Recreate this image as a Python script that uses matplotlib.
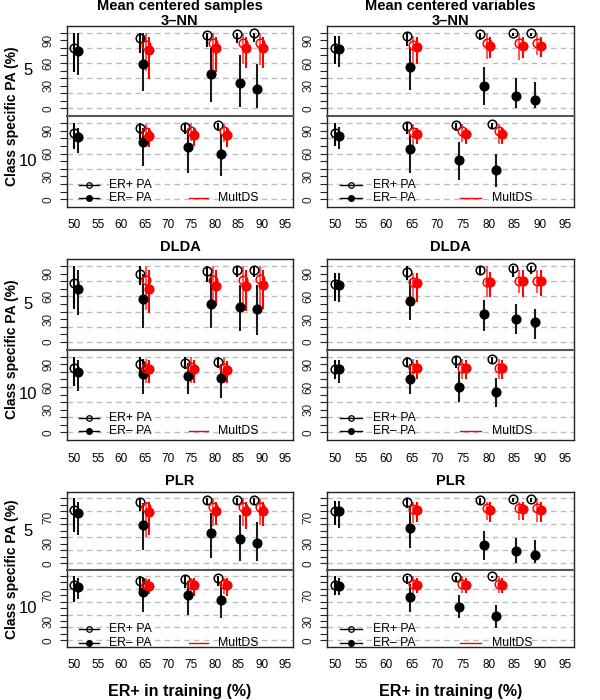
import numpy as np
import matplotlib.pyplot as plt

plt.rcParams['font.family'] = ['Liberation Sans', 'DejaVu Sans']

# ER+ share (%) in the training sets
x_n5 = [50, 64, 78.4, 84.7, 88.3]
x_n10 = [50, 64, 73.6, 80.7]

# class specific PA (%) as (mean, low, high)
# pos = ER+ PA, neg = ER- PA, mpos/mneg = MultDS (no MultDS at 50 %)

# 3-NN, mean centered samples
knn_s5_pos = [(80, 48, 100), (93, 73, 100), (97, 81, 100), (98, 86, 100), (99, 88, 100)]
knn_s5_neg = [(76, 44, 99), (59, 23, 99), (45, 9, 80), (33, 2, 70), (25, 0, 59)]
knn_s5_mpos = [(84, 50, 99), (86, 48, 100), (86, 59, 100), (87, 57, 100)]
knn_s5_mneg = [(77, 39, 94), (80, 48, 94), (80, 53, 94), (80, 53, 94)]
knn_s10_pos = [(87, 66, 100), (93, 79, 100), (95, 86, 100), (97, 89, 100)]
knn_s10_neg = [(82, 61, 94), (75, 44, 94), (68, 35, 90), (60, 31, 86)]
knn_s10_mpos = [(88, 70, 99), (89, 77, 100), (90, 75, 99)]
knn_s10_mneg = [(83, 69, 94), (84, 70, 94), (84, 69, 94)]
# 3-NN, mean centered variables
knn_v5_pos = [(80, 59, 95), (95, 83, 99), (98, 90, 100), (99, 95, 100), (100, 96, 100)]
knn_v5_neg = [(79, 55, 95), (55, 24, 81), (29, 4, 55), (17, 0, 40), (11, 0, 35)]
knn_v5_mpos = [(84, 59, 95), (86, 65, 100), (86, 64, 100), (86, 70, 99)]
knn_v5_mneg = [(81, 59, 94), (82, 66, 94), (82, 66, 94), (82, 68, 94)]
knn_v10_pos = [(87, 70, 100), (96, 86, 100), (98, 90, 100), (99, 92, 100)]
knn_v10_neg = [(83, 66, 95), (66, 35, 86), (51, 25, 75), (38, 16, 60)]
knn_v10_mpos = [(88, 70, 99), (89, 75, 99), (89, 73, 99)]
knn_v10_mneg = [(85, 72, 94), (85, 72, 94), (85, 72, 94)]
# DLDA, mean centered samples
dlda_s5_pos = [(78, 44, 100), (90, 75, 100), (94, 79, 100), (94.5, 86, 100), (95, 86, 100)]
dlda_s5_neg = [(69.5, 35, 94.5), (56, 19, 90), (50.5, 19, 90), (46, 14.5, 75.6), (44, 9, 75)]
dlda_s5_mpos = [(82, 42, 100), (82, 50.5, 100), (82, 41, 100), (83.5, 46, 100)]
dlda_s5_mneg = [(70, 38, 94.5), (74, 47, 94.5), (74, 41, 94.5), (75, 44, 94.5)]
dlda_s10_pos = [(85, 61.5, 100), (90, 79, 100), (92, 83.5, 100), (93.6, 85, 100)]
dlda_s10_neg = [(80.4, 55, 95.4), (77, 50.5, 96.7), (74, 50.5, 92.3), (71.6, 46, 90)]
dlda_s10_mpos = [(85.7, 64.6, 96.7), (86.6, 64.6, 99), (85.7, 64.6, 99)]
dlda_s10_mneg = [(83.5, 64.6, 95.4), (83.5, 64.6, 95.4), (83, 64.6, 94.5)]
# DLDA, mean centered variables
dlda_v5_pos = [(76, 54, 91), (92, 81, 100), (95, 90, 100), (97, 86, 100), (99, 90, 100)]
dlda_v5_neg = [(75.6, 53, 91), (54, 29, 81), (37, 15, 55), (31, 10, 50), (26, 4, 44)]
dlda_v5_mpos = [(79, 48, 91), (79, 59, 100), (80, 64, 95), (80, 64, 95)]
dlda_v5_mneg = [(78, 53, 91), (79, 59, 92), (80, 59, 95), (80, 61, 95)]
dlda_v10_pos = [(83.5, 70, 95), (93.6, 88, 99), (95.4, 85, 100), (96.7, 91, 100)]
dlda_v10_neg = [(83.5, 65, 95), (70, 50.5, 90), (60, 40, 80), (53, 34, 72)]
dlda_v10_mpos = [(84.4, 70, 96.7), (84.4, 70, 96.7), (84.4, 70, 96.7)]
dlda_v10_mneg = [(84.4, 70, 95.4), (84.4, 70, 95.4), (84.4, 70, 95.4)]
# PLR, mean centered samples
plr_s5_pos = [(82.5, 49, 100), (94, 80, 100), (97, 90, 100), (98, 90, 100), (98, 90, 100)]
plr_s5_neg = [(77, 44, 95), (59, 20, 93), (46, 8, 77), (37, 4, 75), (31, 4, 64)]
plr_s5_mpos = [(86, 41, 95), (86, 57, 100), (86, 57, 100), (86.6, 59, 100)]
plr_s5_mneg = [(79, 44, 94), (81, 59, 94), (81, 53, 94), (81, 58, 94)]
plr_s10_pos = [(85.5, 60, 100), (92, 77, 100), (95, 82, 100), (96.4, 84.5, 100)]
plr_s10_neg = [(83, 64, 97), (75.6, 44.6, 97), (70, 40, 92), (62, 35, 90)]
plr_s10_mpos = [(86, 71.5, 97), (87, 71.5, 97), (87, 71.5, 97)]
plr_s10_mneg = [(84.5, 71.5, 95), (85.5, 69, 97), (85.5, 69, 97)]
# PLR, mean centered variables
plr_v5_pos = [(81, 59, 96), (95, 85, 100), (98, 90, 100), (99.5, 95, 100), (99.5, 95, 100)]
plr_v5_neg = [(80, 54, 96), (54, 24, 88), (28, 5, 50), (19, 0, 39), (13, 0, 36)]
plr_v5_mpos = [(83.5, 62, 95), (85, 67, 95), (85, 67, 95), (85, 64, 100)]
plr_v5_mneg = [(81.4, 64, 95), (82.5, 64, 95), (83.5, 67, 95), (82.5, 64, 95)]
plr_v10_pos = [(85.5, 70.5, 100), (96.4, 87, 100), (98, 92, 100), (100, 97, 100)]
plr_v10_neg = [(84.5, 70.5, 96.4), (68, 44.6, 87), (52, 35, 70.5), (37, 18.6, 55)]
plr_v10_mpos = [(87, 74, 100), (87, 74, 100), (87, 74, 100)]
plr_v10_mneg = [(85.5, 74, 97.4), (85.5, 74, 97.4), (85.5, 74, 97.4)]

methods = ['3\u2013NN', 'DLDA', 'PLR']
centerings = ['Mean centered samples', 'Mean centered variables']
ytick_labels = [[0, 30, 60, 90], [0, 30, 60, 90], [0, 30, 70]]

panels = {
    (0, 0, 5): (knn_s5_pos, knn_s5_neg, knn_s5_mpos, knn_s5_mneg),
    (0, 0, 10): (knn_s10_pos, knn_s10_neg, knn_s10_mpos, knn_s10_mneg),
    (0, 1, 5): (knn_v5_pos, knn_v5_neg, knn_v5_mpos, knn_v5_mneg),
    (0, 1, 10): (knn_v10_pos, knn_v10_neg, knn_v10_mpos, knn_v10_mneg),
    (1, 0, 5): (dlda_s5_pos, dlda_s5_neg, dlda_s5_mpos, dlda_s5_mneg),
    (1, 0, 10): (dlda_s10_pos, dlda_s10_neg, dlda_s10_mpos, dlda_s10_mneg),
    (1, 1, 5): (dlda_v5_pos, dlda_v5_neg, dlda_v5_mpos, dlda_v5_mneg),
    (1, 1, 10): (dlda_v10_pos, dlda_v10_neg, dlda_v10_mpos, dlda_v10_mneg),
    (2, 0, 5): (plr_s5_pos, plr_s5_neg, plr_s5_mpos, plr_s5_mneg),
    (2, 0, 10): (plr_s10_pos, plr_s10_neg, plr_s10_mpos, plr_s10_mneg),
    (2, 1, 5): (plr_v5_pos, plr_v5_neg, plr_v5_mpos, plr_v5_mneg),
    (2, 1, 10): (plr_v10_pos, plr_v10_neg, plr_v10_mpos, plr_v10_mneg),
}

W, H = 600, 700
fig = plt.figure(figsize=(6, 7), dpi=100)

col_px = [(67, 293), (327, 574)]
row_px = [(25.7, 116, 207), (259, 349.7, 440), (492.3, 570, 646.7)]
row_title_y = [20.7, 247, 480.7]
legend_y = [(19, 2.2), (19, 1.3), (17, -3.6)]


def fx(px):
    return px / W


def fy(py):
    return 1 - py / H


def draw_series(ax, xs, data, dx, color, bar_color, filled):
    arr = np.array(data, dtype=float)
    x = np.array(xs, dtype=float) + dx
    ax.vlines(x, arr[:, 1], arr[:, 2], color=bar_color, lw=1.5, zorder=2)
    ax.plot(x, arr[:, 0], 'o', ms=6.2, mec=color, mew=1.1,
            mfc=color if filled else 'none', zorder=3)


for r in range(3):
    top, mid, bot = row_px[r]
    for c in range(2):
        left, right = col_px[c]
        for k, n in enumerate([5, 10]):
            y0, y1 = (top, mid) if n == 5 else (mid, bot)
            ax = fig.add_axes([fx(left), fy(y1), fx(right - left), (y1 - y0) / H])
            xs = x_n5 if n == 5 else x_n10
            pos, neg, mpos, mneg = panels[(r, c, n)]
            draw_series(ax, xs, pos, 0.0, 'black', 'black', False)
            draw_series(ax, xs, neg, 0.7, 'black', '#1a1a1a', True)
            draw_series(ax, xs[1:], mpos, 1.25, 'red', '#ff5a5a', False)
            draw_series(ax, xs[1:], mneg, 1.95, 'red', 'red', True)
            for g in range(0, 101, 20):
                ax.axhline(g, color='#bdbdbd', lw=1.0, ls=(0, (4, 3)), zorder=1)
            ax.set_xlim(48.4, 96.7)
            ax.set_ylim(-10, 109.2)
            ax.set_yticks(range(0, 101, 10))
            ax.set_yticklabels([str(v) if v in ytick_labels[r] else '' for v in range(0, 101, 10)])
            ax.tick_params(axis='y', length=4.8, width=0.8, pad=4.5, labelsize=8.5,
                           labelrotation=90, colors='#222222')
            for lab in ax.get_yticklabels():
                lab.set_va('center')
            ax.set_xticks(range(50, 96, 5))
            if n == 10:
                ax.tick_params(axis='x', length=0, pad=9, labelsize=8.5)
            else:
                ax.tick_params(axis='x', length=0, labelbottom=False)
            for s in ax.spines.values():
                s.set_color('#222222')
                s.set_linewidth(1.0)
            if n == 5:
                ax.spines['bottom'].set_visible(False)
            else:
                ax.spines['top'].set_color('#555555')
                ax.spines['top'].set_linewidth(1.5)
                ya, yb = legend_y[r]
                ax.plot([51, 55.2], [ya, ya], color='black', lw=1.0, clip_on=False)
                ax.plot([53.1], [ya], 'o', ms=4, mfc='none', mec='black', mew=0.9, clip_on=False)
                ax.plot([51, 55.2], [yb, yb], color='black', lw=1.0, clip_on=False)
                ax.plot([53.1], [yb], 'o', ms=4, mfc='black', mec='black', clip_on=False)
                ax.text(57.3, ya, 'ER+ PA', fontsize=8.8, va='center')
                ax.text(57.3, yb, 'ER\u2013 PA', fontsize=8.8, va='center')
                ax.plot([74.5, 78.6], [yb, yb], color='red', lw=1.0)
                ax.text(80.6, yb, 'MultDS', fontsize=8.8, va='center')
            if c == 0:
                fig.text(fx(28), fy((y0 + y1) / 2), str(n), fontsize=12,
                         ha='center', va='center')
        fig.text(fx((left + right) / 2), fy(row_title_y[r]), methods[r],
                 fontsize=10.5, fontweight='bold', ha='center', va='center')
    fig.text(fx(12), fy((top + bot) / 2), 'Class specific PA (%)', rotation=90,
             fontsize=10, fontweight='bold', ha='center', va='center')

for c in range(2):
    left, right = col_px[c]
    fig.text(fx((left + right) / 2), fy(6), centerings[c],
             fontsize=10.5, fontweight='bold', ha='center', va='center')
    fig.text(fx((left + right) / 2), fy(691.7), 'ER+ in training (%)',
             fontsize=11.5, fontweight='bold', ha='center', va='center')

fig.savefig('out.png', dpi=100)
